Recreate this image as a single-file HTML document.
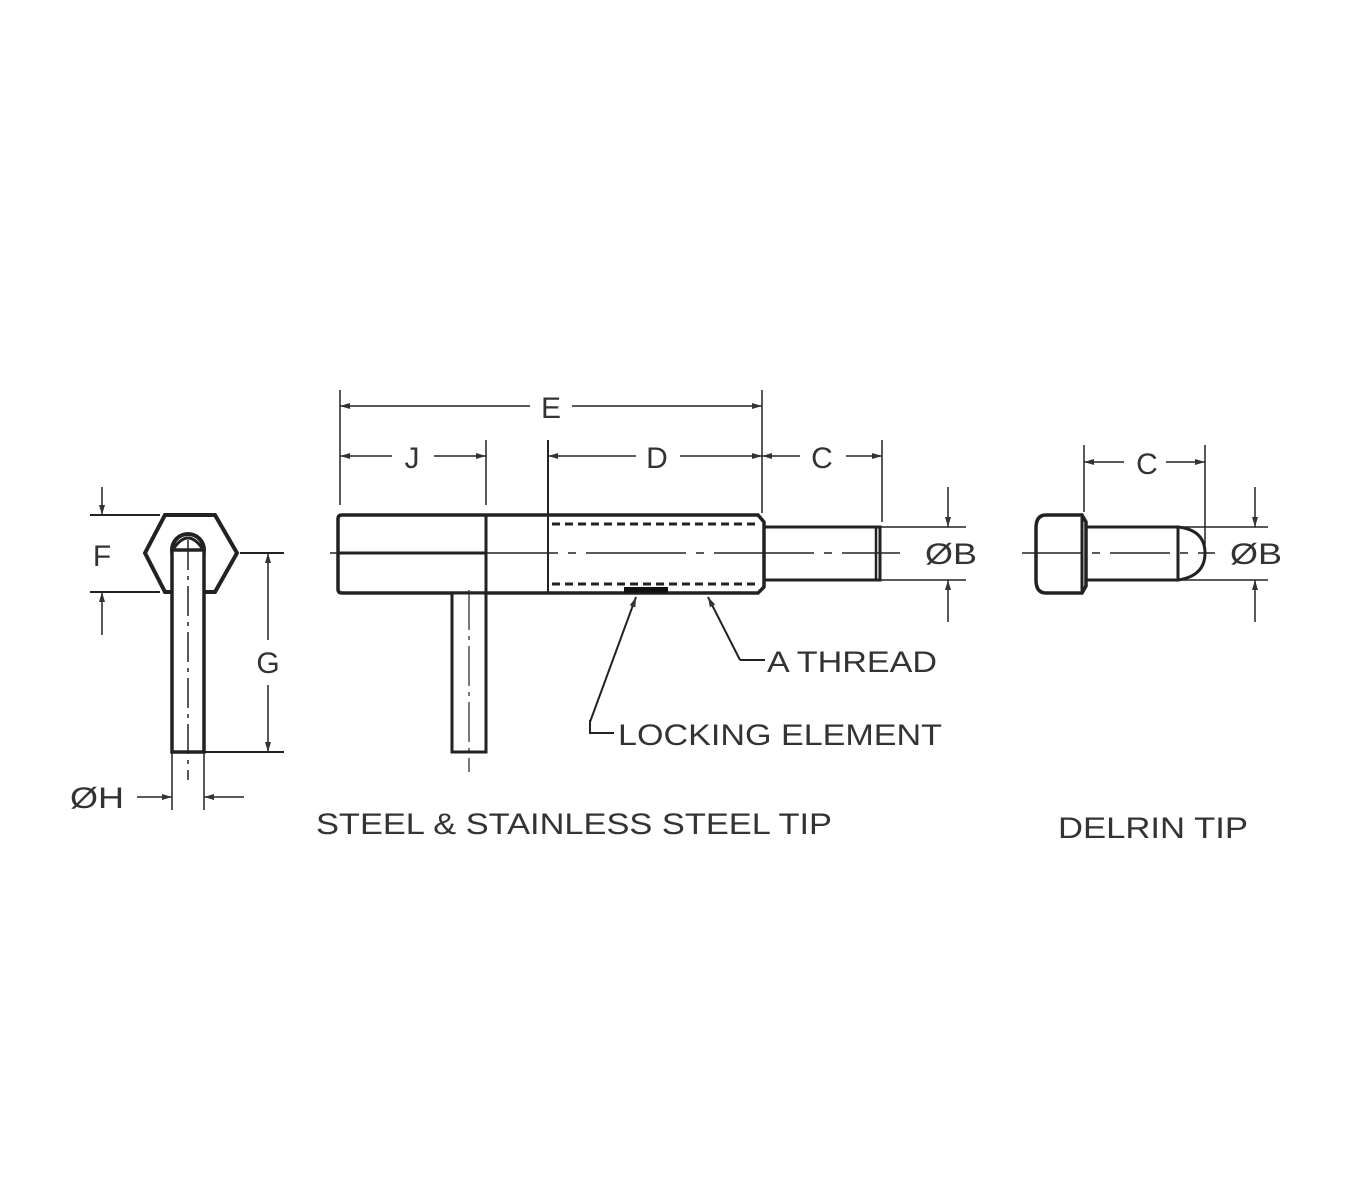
<!DOCTYPE html>
<html><head><style>html,body{margin:0;padding:0;background:#fff}svg{display:block}</style></head>
<body>
<svg width="1360" height="1200" viewBox="0 0 1360 1200" xmlns="http://www.w3.org/2000/svg" font-family="Liberation Sans, sans-serif" fill="#333">
<defs>
<marker id="a" viewBox="0 0 10 10" refX="10" refY="5" markerWidth="10" markerHeight="10" orient="auto-start-reverse" markerUnits="userSpaceOnUse"><path d="M0,2 L10,5 L0,8 z" fill="#333"/></marker>
</defs>
<g stroke="#222" fill="none">
<!-- left view -->
<path d="M165,515 L215,515 L237,553 L215,592 L165,592 L145,553 Z" stroke-width="4"/>
<circle cx="188" cy="550" r="16" stroke-width="4" fill="#fff"/>
<rect x="172" y="550" width="32" height="202" fill="#fff" stroke-width="3.5"/>
<path d="M174,548 Q188,528 202,548" stroke-width="3"/>
<line x1="188" y1="540" x2="188" y2="780" stroke-width="1.5" stroke-dasharray="30,6,4,6"/>
<line x1="90" y1="515" x2="160" y2="515" stroke-width="2"/>
<line x1="90" y1="592" x2="160" y2="592" stroke-width="2"/>
<line x1="102" y1="487" x2="102" y2="515" stroke-width="1.5" marker-end="url(#a)"/>
<line x1="102" y1="635" x2="102" y2="592" stroke-width="1.5" marker-end="url(#a)"/>
<line x1="240" y1="553" x2="284" y2="553" stroke-width="2"/>
<line x1="204" y1="752" x2="284" y2="752" stroke-width="2"/>
<line x1="268" y1="640" x2="268" y2="553" stroke-width="1.5" marker-end="url(#a)"/>
<line x1="268" y1="685" x2="268" y2="752" stroke-width="1.5" marker-end="url(#a)"/>
<line x1="172" y1="752" x2="172" y2="810" stroke-width="1.5"/>
<line x1="204" y1="752" x2="204" y2="810" stroke-width="1.5"/>
<line x1="137" y1="797" x2="172" y2="797" stroke-width="1.5" marker-end="url(#a)"/>
<line x1="244" y1="797" x2="204" y2="797" stroke-width="1.5" marker-end="url(#a)"/>
<!-- main body -->
<line x1="330" y1="553" x2="900" y2="553" stroke-width="1.5" stroke-dasharray="100,10,8,10"/>
<path d="M342,515 L758,515 L764,522 L764,587 L758,593 L342,593 Q338,593 338,589 L338,519 Q338,515 342,515 Z" stroke-width="3.5"/>
<line x1="338" y1="553" x2="486" y2="553" stroke-width="3"/>
<line x1="486" y1="515" x2="486" y2="593" stroke-width="3"/>
<line x1="548" y1="440" x2="548" y2="593" stroke-width="2"/>
<line x1="552" y1="524" x2="756" y2="524" stroke-width="3" stroke-dasharray="8,5"/>
<line x1="552" y1="584" x2="756" y2="584" stroke-width="3" stroke-dasharray="8,5"/>
<rect x="624" y="587" width="44" height="6" fill="#111" stroke="none"/>
<rect x="764" y="527" width="116" height="53" stroke-width="3"/>
<line x1="876" y1="527" x2="876" y2="580" stroke-width="2.5"/>
<rect x="452" y="593" width="34" height="159" stroke-width="3" fill="#fff"/>
<line x1="469" y1="590" x2="469" y2="772" stroke-width="1.2" stroke-dasharray="40,6,4,6"/>
<line x1="340" y1="390" x2="340" y2="505" stroke-width="1.5"/>
<line x1="486" y1="440" x2="486" y2="505" stroke-width="1.5"/>
<line x1="762" y1="390" x2="762" y2="513" stroke-width="1.5"/>
<line x1="882" y1="440" x2="882" y2="522" stroke-width="1.5"/>
<line x1="530" y1="406" x2="340" y2="406" stroke-width="1.5" marker-end="url(#a)"/>
<line x1="572" y1="406" x2="762" y2="406" stroke-width="1.5" marker-end="url(#a)"/>
<line x1="392" y1="456" x2="340" y2="456" stroke-width="1.5" marker-end="url(#a)"/>
<line x1="434" y1="456" x2="486" y2="456" stroke-width="1.5" marker-end="url(#a)"/>
<line x1="636" y1="456" x2="548" y2="456" stroke-width="1.5" marker-end="url(#a)"/>
<line x1="680" y1="456" x2="762" y2="456" stroke-width="1.5" marker-end="url(#a)"/>
<line x1="762" y1="456" x2="800" y2="456" stroke-width="1.5" marker-start="url(#a)"/>
<line x1="846" y1="456" x2="882" y2="456" stroke-width="1.5" marker-end="url(#a)"/>
<line x1="880" y1="527" x2="966" y2="527" stroke-width="1.5"/>
<line x1="880" y1="580" x2="966" y2="580" stroke-width="1.5"/>
<line x1="948" y1="487" x2="948" y2="527" stroke-width="1.5" marker-end="url(#a)"/>
<line x1="948" y1="622" x2="948" y2="580" stroke-width="1.5" marker-end="url(#a)"/>
<polyline points="590,720 590,733 614,733" stroke-width="2"/>
<line x1="590" y1="722" x2="636" y2="597" stroke-width="2" marker-end="url(#a)"/>
<polyline points="740,660 765,660" stroke-width="2"/>
<line x1="740" y1="660" x2="708" y2="597" stroke-width="2" marker-end="url(#a)"/>
<!-- delrin -->
<line x1="1022" y1="553" x2="1215" y2="553" stroke-width="1.5" stroke-dasharray="60,10,8,10"/>
<path d="M1046,515 L1082,515 L1086,522 L1086,586 L1082,593 L1046,593 Q1036,593 1036,580 L1036,528 Q1036,515 1046,515 Z" stroke-width="3.5"/>
<line x1="1082" y1="517" x2="1082" y2="591" stroke-width="3"/>
<rect x="1086" y="527" width="92" height="53" stroke-width="3"/>
<path d="M1178,527 Q1205,530 1205,553 Q1205,576 1178,580" stroke-width="3"/>
<line x1="1084" y1="445" x2="1084" y2="512" stroke-width="1.5"/>
<line x1="1205" y1="445" x2="1205" y2="545" stroke-width="1.5"/>
<line x1="1084" y1="462" x2="1124" y2="462" stroke-width="1.5" marker-start="url(#a)"/>
<line x1="1166" y1="462" x2="1205" y2="462" stroke-width="1.5" marker-end="url(#a)"/>
<line x1="1182" y1="527" x2="1268" y2="527" stroke-width="1.5"/>
<line x1="1182" y1="580" x2="1268" y2="580" stroke-width="1.5"/>
<line x1="1255" y1="487" x2="1255" y2="527" stroke-width="1.5" marker-end="url(#a)"/>
<line x1="1255" y1="622" x2="1255" y2="580" stroke-width="1.5" marker-end="url(#a)"/>
</g>
<g font-size="30" fill="#333">
<text x="102" y="566" text-anchor="middle">F</text>
<text x="268" y="673" text-anchor="middle">G</text>
<text x="70" y="808" textLength="54" lengthAdjust="spacingAndGlyphs">ØH</text>
<text x="551" y="418" text-anchor="middle">E</text>
<text x="412" y="468" text-anchor="middle">J</text>
<text x="657" y="468" text-anchor="middle">D</text>
<text x="822" y="468" text-anchor="middle">C</text>
<text x="1147" y="474" text-anchor="middle">C</text>
<text x="925" y="564" textLength="52" lengthAdjust="spacingAndGlyphs">ØB</text>
<text x="1230" y="564" textLength="52" lengthAdjust="spacingAndGlyphs">ØB</text>
<text x="767" y="672" textLength="170" lengthAdjust="spacingAndGlyphs">A THREAD</text>
<text x="618" y="745" textLength="324" lengthAdjust="spacingAndGlyphs">LOCKING ELEMENT</text>
<text x="316" y="834" textLength="516" lengthAdjust="spacingAndGlyphs">STEEL &amp; STAINLESS STEEL TIP</text>
<text x="1058" y="838" textLength="190" lengthAdjust="spacingAndGlyphs">DELRIN TIP</text>
</g>
</svg>
</body></html>
